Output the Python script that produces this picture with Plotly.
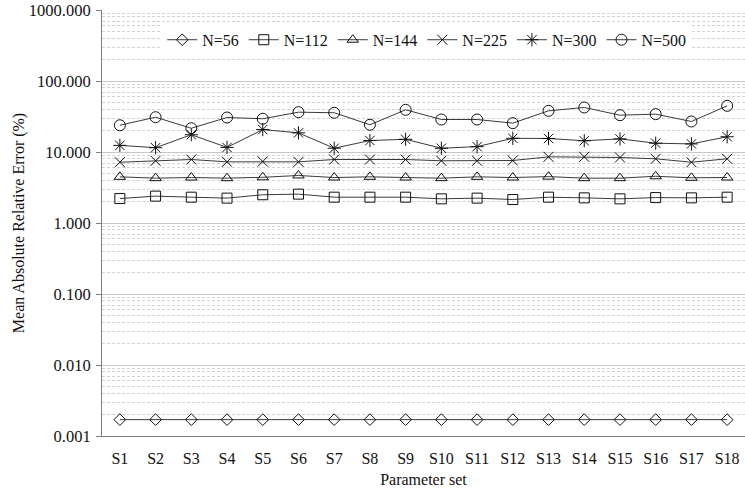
import plotly.graph_objects as go

categories = ["S%d" % i for i in range(1, 19)]

n56 = [0.0017] * 18
n112 = [2.21, 2.39, 2.31, 2.24, 2.50, 2.55, 2.31, 2.31, 2.31,
        2.19, 2.24, 2.14, 2.31, 2.26, 2.19, 2.28, 2.26, 2.31]
n144 = [4.47, 4.28, 4.37, 4.28, 4.40, 4.67, 4.37, 4.47, 4.37,
        4.28, 4.47, 4.37, 4.50, 4.28, 4.28, 4.55, 4.33, 4.37]
n225 = [7.18, 7.52, 7.84, 7.27, 7.35, 7.27, 7.84, 7.84, 7.84,
        7.52, 7.52, 7.59, 8.55, 8.55, 8.37, 8.02, 7.18, 8.02]
n300 = [12.4, 11.5, 17.5, 11.6, 20.7, 18.6, 11.3, 14.5, 15.1,
        11.3, 11.9, 15.6, 15.5, 14.4, 15.3, 13.3, 13.0, 16.4]
n500 = [23.8, 30.9, 21.6, 30.6, 29.4, 36.4, 35.7, 24.2, 39.3,
        28.7, 28.7, 25.5, 38.0, 42.4, 33.0, 34.1, 26.9, 44.7]

series_names = ["N=56", "N=112", "N=144", "N=225", "N=300", "N=500"]
series_values = [n56, n112, n144, n225, n300, n500]
symbols = ["diamond-open", "square-open", "triangle-up-open",
           "x-thin-open", "asterisk-open", "circle-open"]
sizes = [9, 10, 10, 10, 11, 11]

ytick_vals = [0.001, 0.01, 0.1, 1, 10, 100, 1000]
ytick_text = ["0.001", "0.010", "0.100", "1.000", "10.000", "100.000", "1000.000"]

FONT = "'Liberation Serif', 'Times New Roman', Times, serif"

fig = go.Figure()
for name, vals, sym, sz in zip(series_names, series_values, symbols, sizes):
    fig.add_trace(go.Scatter(
        x=categories, y=vals, name=name, mode="lines+markers",
        line=dict(color="#3a3a3a", width=1),
        marker=dict(symbol=sym, size=sz, color="#111111",
                    line=dict(color="#111111", width=1)),
    ))

fig.update_layout(
    width=745, height=494,
    margin=dict(l=102, r=0, t=10, b=58),
    paper_bgcolor="white", plot_bgcolor="white",
    font=dict(family=FONT, size=16, color="#111111"),
    showlegend=True,
    legend=dict(orientation="h", x=0.505, xanchor="center", y=0.93, yanchor="middle",
                bgcolor="white", font=dict(size=16, family=FONT),
                itemwidth=30, tracegroupgap=0),
)

fig.update_xaxes(
    type="category", range=[-0.5, 17.5],
    showline=True, linecolor="#808080", linewidth=1,
    ticks="", showgrid=False, zeroline=False,
    tickfont=dict(size=16, family=FONT),
    ticklabelstandoff=8,
    title=dict(text="Parameter set", font=dict(size=16, family=FONT), standoff=7),
)

fig.update_yaxes(
    type="log", range=[-3, 3],
    tickvals=ytick_vals, ticktext=ytick_text,
    showline=True, linecolor="#808080", linewidth=1,
    ticks="outside", ticklen=5, tickcolor="#808080",
    showgrid=True, gridcolor="#c8c8c8", gridwidth=1,
    zeroline=False,
    tickfont=dict(size=16.5, family=FONT),
    ticklabelstandoff=2,
    minor=dict(dtick="D1", showgrid=True, gridcolor="#d4d4d4", griddash="3px,2px",
               gridwidth=1, ticks=""),
    title=dict(text="Mean Absolute Relative Error (%)", font=dict(size=16, family=FONT),
               standoff=0),
)

fig.write_html("out.html")
